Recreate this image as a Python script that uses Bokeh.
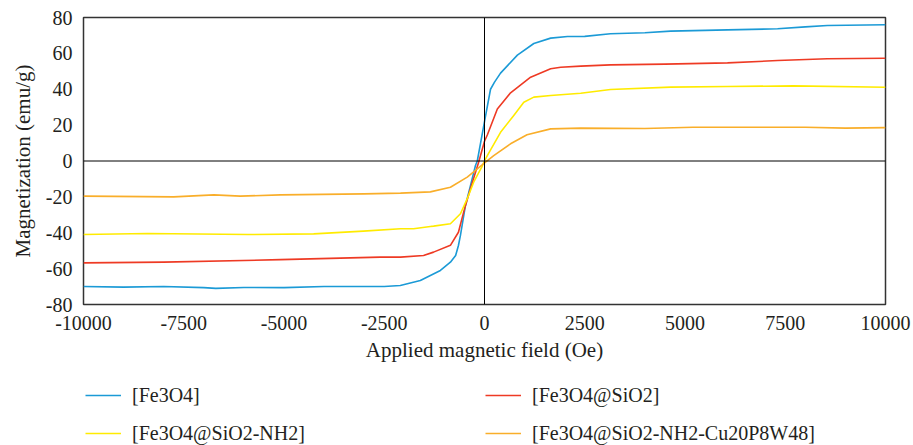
from bokeh.plotting import figure
from bokeh.models import Span, Legend, LegendItem, FixedTicker, Range1d
from bokeh.layouts import column
from bokeh.embed import file_html
from bokeh.resources import INLINE

# ---- data ----
fe3o4_x = [-10000, -9000, -8000, -7000, -6700, -6000, -5000, -4000, -3000, -2500, -2100, -1600, -1100,
           -850, -720, -650, -600, -475, -350, -225, -180, 0, 150, 250, 400, 820, 1230, 1650, 2070, 2500,
           3140, 4000, 4640, 5500, 6060, 7310, 8000, 8550, 10000]
fe3o4_y = [-70.0, -70.3, -70.0, -70.6, -71.0, -70.5, -70.6, -70.0, -70.0, -70.0, -69.4, -66.6, -61.0,
           -56.4, -52.7, -47.1, -41.5, -24.8, -13.7, -2.5, 0.0, 22.0, 40.0, 44.0, 49.0, 59.0, 65.5, 68.5, 69.4,
           69.5, 70.9, 71.5, 72.4, 72.8, 73.1, 73.7, 74.8, 75.5, 76.0]

sio2_x = [-10000, -8000, -5090, -2600, -2095, -1520, -1270, -850, -650, -520, -350, -150, 0, 70, 320,
          650, 1150, 1650, 1900, 2400, 3140, 4500, 6060, 7310, 8550, 10000]
sio2_y = [-56.8, -56.4, -55.0, -53.6, -53.6, -52.7, -50.8, -47.0, -39.7, -28.5, -15.3, -1.0, 11.0, 14.5, 29.0,
          38.0, 46.7, 51.4, 52.3, 52.9, 53.6, 54.0, 54.7, 56.0, 57.0, 57.3]

nh2_x = [-10000, -8400, -5900, -4260, -3020, -2095, -1770, -1350, -1270, -850, -600, -430, -270, -60, 0,
         70, 400, 730, 980, 1230, 1650, 2400, 3140, 4640, 6060, 7700, 10000]
nh2_y = [-41.0, -40.4, -41.0, -40.6, -39.1, -37.8, -37.8, -36.5, -36.3, -35.0, -29.4, -21.0, -11.8, -3.0, 0.0,
         3.0, 16.0, 25.4, 32.8, 35.6, 36.5, 37.8, 39.9, 41.2, 41.5, 41.9, 41.1]

cu_x = [-10000, -7750, -6750, -6090, -5090, -3000, -2095, -1350, -850, -430, -180, 25, 230, 650, 1060,
        1650, 2400, 4000, 5200, 8000, 9000, 10000]
cu_y = [-19.6, -20.0, -18.9, -19.6, -18.9, -18.3, -17.9, -17.2, -14.6, -9.0, -4.4, -0.6, 3.0, 9.6, 14.6,
        17.9, 18.3, 18.1, 18.8, 18.8, 18.3, 18.6]

series_names = ["[Fe3O4]", "[Fe3O4@SiO2]", "[Fe3O4@SiO2-NH2]", "[Fe3O4@SiO2-NH2-Cu20P8W48]"]
series_colors = ["#1B9AD6", "#EE3A24", "#FFEB00", "#F9AE2A"]
series_x = [fe3o4_x, sio2_x, nh2_x, cu_x]
series_y = [fe3o4_y, sio2_y, nh2_y, cu_y]

x_ticks = [-10000, -7500, -5000, -2500, 0, 2500, 5000, 7500, 10000]
y_ticks = [-80, -60, -40, -20, 0, 20, 40, 60, 80]

FONT = "Liberation Serif"
TXT = "#231F20"

p = figure(width=913, height=370, output_backend="svg", toolbar_location=None,
           x_range=Range1d(-10000, 10000), y_range=Range1d(-80, 80),
           min_border_left=83, min_border_right=28, min_border_top=17, min_border_bottom=66)
p.background_fill_color = "white"
p.border_fill_color = "white"
p.outline_line_color = "#333333"
p.outline_line_width = 1.5
p.xgrid.visible = False
p.ygrid.visible = False

for ax, ticks in ((p.xaxis[0], x_ticks), (p.yaxis[0], y_ticks)):
    ax.ticker = FixedTicker(ticks=ticks)
    ax.major_label_overrides = {t: str(t) for t in ticks}
    ax.axis_line_color = None
    ax.major_tick_line_color = None
    ax.minor_tick_line_color = None
    ax.major_label_text_font = FONT
    ax.major_label_text_font_size = "20px"
    ax.major_label_text_color = TXT
    ax.axis_label_text_font = FONT
    ax.axis_label_text_font_size = "21px"
    ax.axis_label_text_font_style = "normal"
    ax.axis_label_text_color = TXT

p.xaxis.axis_label = "Applied magnetic field (Oe)"
p.yaxis.axis_label = "Magnetization (emu/g)"
p.xaxis.major_label_standoff = 5
p.xaxis.axis_label_standoff = 5
p.yaxis.major_label_standoff = 5
p.yaxis.axis_label_standoff = 8

p.add_layout(Span(location=0, dimension="width", line_color="#000000", line_width=1))
p.add_layout(Span(location=0, dimension="height", line_color="#000000", line_width=1))

for xs, ys, c in zip(series_x, series_y, series_colors):
    p.line(xs, ys, line_color=c, line_width=1.6, line_join="round")

# legend panel below the chart (its lines lie outside its visible range; only the legend shows)
q = figure(width=913, height=75, output_backend="svg", toolbar_location=None,
           x_axis_location=None, y_axis_location=None, min_border=0,
           x_range=Range1d(-10000, 10000), y_range=Range1d(500, 600))
q.outline_line_color = None
q.xgrid.visible = False
q.ygrid.visible = False
legend_renderers = [q.line(xs, ys, line_color=c, line_width=1.6)
                    for xs, ys, c in zip(series_x, series_y, series_colors)]

legend = Legend(items=[LegendItem(label=n, renderers=[r]) for n, r in zip(series_names, legend_renderers)],
                orientation="horizontal", ncols=2, location=(2, 0),
                glyph_width=36, glyph_height=20, label_standoff=11, label_width=339, label_height=24,
                spacing=14, padding=0, margin=0,
                label_text_font=FONT, label_text_font_size="20px", label_text_color=TXT,
                background_fill_alpha=0, border_line_color=None)
q.add_layout(legend)

open("out.html", "w").write(file_html(column(p, q, spacing=0), INLINE))
